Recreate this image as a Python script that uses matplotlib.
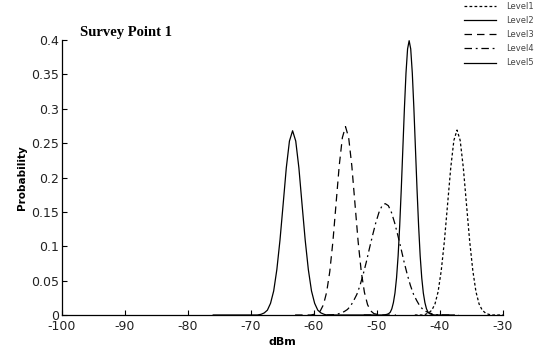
import matplotlib
matplotlib.use("Agg")
import matplotlib.pyplot as plt

# values (dBm vs probability)
level1_x = [-44, -42.8, -42.3, -41.8, -41.3, -40.8, -40.3, -39.8, -39.3, -38.8, -38.3, -37.8,
            -37.3, -36.8, -36.3, -35.8, -35.3, -34.8, -34.3, -33.8, -33.3, -32.8, -32.3,
            -31.8, -30]
level1_y = [0, 0, .001, .003, .007, .016, .034, .065, .108, .161, .214, .254,
            .269, .254, .214, .161, .108, .065, .034, .016, .007, .003, .001,
            0, 0]

level2_x = [-52, -48.9, -48.4, -48.15, -47.9, -47.65, -47.4, -47.15, -46.9, -46.65, -46.4,
            -46.15, -45.9, -45.65, -45.4, -45.15, -44.9, -44.65, -44.4, -44.15, -43.9,
            -43.65, -43.4, -43.15, -42.9, -42.65, -42.4, -42.15, -41.9, -41.65, -41.4,
            -40.9, -38]
level2_y = [0, 0, .001, .002, .004, .009, .018, .032, .054, .086, .130,
            .183, .242, .301, .352, .387, .399, .387, .352, .301, .242,
            .183, .130, .086, .054, .032, .018, .009, .004, .002, .001,
            0, 0]

level3_x = [-63, -60.5, -60.0, -59.5, -59.0, -58.5, -58.0, -57.5, -57.0, -56.5, -56.0, -55.5,
            -55.0, -54.5, -54.0, -53.5, -53.0, -52.5, -52.0, -51.5, -51.0, -50.5, -50.0,
            -49.5, -47]
level3_y = [0, 0, .001, .002, .006, .015, .033, .063, .107, .162, .217, .258,
            .274, .258, .217, .162, .107, .063, .033, .015, .006, .002, .001,
            0, 0]

level4_x = [-58, -56.7, -56.2, -55.7, -55.2, -54.7, -54.2, -53.7, -53.2, -52.7, -52.2, -51.7,
            -51.2, -50.7, -50.2, -49.7, -49.2, -48.7, -48.2, -47.7, -47.2, -46.7, -46.2,
            -45.7, -45.2, -44.7, -44.2, -43.7, -43.2, -42.7, -42.2, -41.7, -41.2, -40.7,
            -40, -37]
level4_y = [0, .0005, .0015, .003, .005, .008, .013, .021, .030, .043, .059, .077,
            .097, .116, .134, .149, .159, .162, .159, .149, .134, .116, .097,
            .077, .059, .043, .030, .021, .013, .008, .005, .003, .0015, .0005,
            0, 0]

level5_x = [-76, -69, -68.4, -67.9, -67.4, -66.9, -66.4, -65.9, -65.4, -64.9, -64.4, -63.9,
            -63.4, -62.9, -62.4, -61.9, -61.4, -60.9, -60.4, -59.9, -59.4, -58.9, -58.4,
            -58, -51]
level5_y = [0, 0, .001, .003, .007, .017, .035, .066, .109, .161, .214, .253,
            .268, .253, .214, .161, .109, .066, .035, .017, .007, .003, .001,
            0, 0]

x_ticks = [-100, -90, -80, -70, -60, -50, -40, -30]
y_ticks = [0, 0.05, 0.1, 0.15, 0.2, 0.25, 0.3, 0.35, 0.4]
y_tick_labels = ["0", "0.05", "0.1", "0.15", "0.2", "0.25", "0.3", "0.35", "0.4"]

fig = plt.figure(figsize=(5.41, 3.55), dpi=100)
ax = fig.add_axes([0.1146, 0.1127, 0.8152, 0.7746])

lw = 0.9
ax.plot(level1_x, level1_y, color="black", lw=lw, linestyle=(0, (2.2, 1.8)), label="Level1")
ax.plot(level2_x, level2_y, color="black", lw=lw, linestyle="-", label="Level2")
ax.plot(level3_x, level3_y, color="black", lw=lw, linestyle=(0, (6, 4)), label="Level3")
ax.plot(level4_x, level4_y, color="black", lw=lw, linestyle=(0, (6, 3, 1.5, 3)), label="Level4")
ax.plot(level5_x, level5_y, color="black", lw=lw, linestyle="-", label="Level5")

ax.set_xlim(-100, -30)
ax.set_ylim(0, 0.4)
ax.set_xticks(x_ticks)
ax.set_xticklabels([str(t) for t in x_ticks])
ax.set_yticks(y_ticks)
ax.set_yticklabels(y_tick_labels)
ax.tick_params(direction="in", length=3.5, width=0.8, labelsize=9,
               labelcolor="#222222")
ax.tick_params(axis="y", pad=2)
ax.tick_params(axis="x", pad=3.5)
for s in ["top", "right"]:
    ax.spines[s].set_visible(False)
for s in ["left", "bottom"]:
    ax.spines[s].set_linewidth(0.9)

ax.set_xlabel("dBm", fontsize=8, fontweight="bold", labelpad=3)
ax.set_ylabel("Probability", fontsize=7.5, fontweight="bold", labelpad=3)

ax.text(0.04, 1.027, "Survey Point 1", transform=ax.transAxes, ha="left", va="center",
        fontsize=10.5, fontweight="bold", family="Liberation Serif")

fig.legend(loc="upper right", bbox_to_anchor=(1.0, 1.016), frameon=False,
           fontsize=6, handlelength=3.8, labelspacing=0.62, handletextpad=1.2,
           labelcolor="#444444")

fig.savefig("out.png", dpi=100)
